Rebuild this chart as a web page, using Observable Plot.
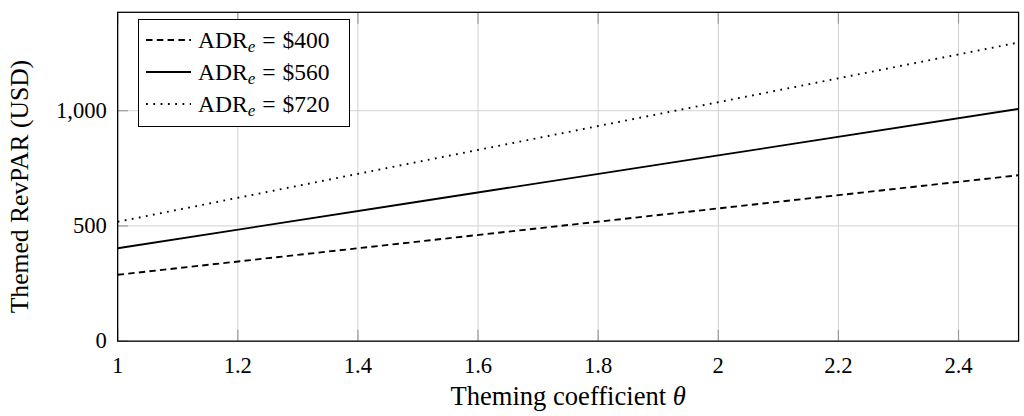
<!DOCTYPE html>
<html>
<head>
<meta charset="utf-8">
<script src="https://cdn.jsdelivr.net/npm/d3@7"></script>
<script src="https://cdn.jsdelivr.net/npm/@observablehq/plot@0.6"></script>
<style>
  html, body { margin: 0; padding: 0; background: #fff; overflow: hidden; width: 1024px; height: 416px; }
  #wrap { position: relative; width: 1024px; height: 416px; overflow: hidden; }
  #legend { position: absolute; left: 138px; top: 19px; width: 212px; height: 108px; box-sizing: border-box;
    border: 1.3px solid #000; background: #fff; font-family: "Liberation Serif", "Times New Roman", serif; font-size: 23.5px; }
  .row { position: absolute; left: 0; height: 30px; display: flex; align-items: center; }
  .row svg { margin-left: 7px; margin-right: 7px; }
  .row span.t { white-space: nowrap; }
  .eq { margin: 0 7px; }
  sub { font-style: italic; font-size: 17px; vertical-align: -4px; line-height: 0; }
</style>
</head>
<body>
<div id="wrap"></div>
<script>
// Data
const theta = [1, 1.5, 2, 2.5];
const adrLabels = ["$400", "$560", "$720"];
const rev400 = [288, 432, 576, 720];
const rev560 = [403, 605, 806, 1008];
const rev720 = [518, 778, 1037, 1296];
const xTicks = [1, 1.2, 1.4, 1.6, 1.8, 2, 2.2, 2.4];
const yTicks = [0, 500, 1000];

const seriesVals = [rev400, rev560, rev720];
const dashes = ["6.5,4.3", null, "1.8,5.5"];
const rows = [];
seriesVals.forEach((vals, i) => vals.forEach((v, j) => rows.push({theta: theta[j], rev: v, s: adrLabels[i]})));

const serif = "Liberation Serif";
const gridC = "#d0d0d0";
const tickC = "#9a9a9a";

const marks = [
  Plot.gridX(xTicks, {stroke: gridC, strokeOpacity: 1, strokeWidth: 1}),
  Plot.gridY(yTicks, {stroke: gridC, strokeOpacity: 1, strokeWidth: 1}),
  Plot.axisX(xTicks, {anchor: "bottom", tickSize: -11, stroke: tickC, strokeWidth: 1.2, text: null, label: null}),
  Plot.axisX(xTicks, {anchor: "top", tickSize: -11, stroke: tickC, strokeWidth: 1.2, text: null, label: null}),
  Plot.axisY(yTicks, {anchor: "left", tickSize: -11, stroke: tickC, strokeWidth: 1.2, text: null, label: null}),
  Plot.axisX(xTicks, {anchor: "bottom", tickSize: 0, tickPadding: 16, fontSize: 23, fontFamily: serif, fill: "#000",
    tickFormat: d => String(d), label: null}),
  Plot.axisY(yTicks, {anchor: "left", tickSize: 0, tickPadding: 11, fontSize: 23, fontFamily: serif, fill: "#000",
    tickFormat: d => d3.format(",")(d), label: null}),
];
adrLabels.forEach((s, i) => {
  marks.push(Plot.line(rows.filter(r => r.s === s), {x: "theta", y: "rev", stroke: "#000", strokeWidth: 1.9,
    strokeDasharray: dashes[i] || undefined, strokeLinecap: "butt"}));
});
marks.push(Plot.frame({stroke: "#000", strokeWidth: 1.3}));
marks.push(Plot.text(["Themed RevPAR (USD)"], {frameAnchor: "left", dx: -99, dy: 10, rotate: -90, textAnchor: "middle", lineAnchor: "middle",
  fontSize: 26, fontFamily: serif, fill: "#000"}));
marks.push(Plot.text(["Theming coefficient θ"], {frameAnchor: "bottom", dy: 56, lineAnchor: "middle", fontSize: 27, fontFamily: serif, fill: "#000"}));

const chart = Plot.plot({
  width: 1040, height: 416,
  marginLeft: 119, marginRight: 6, marginTop: 12, marginBottom: 70,
  style: {background: "#fff", fontFamily: serif, overflow: "visible"},
  x: {domain: [1, 2.5], axis: null},
  y: {domain: [0, 1427], axis: null},
  marks
});
document.getElementById("wrap").appendChild(chart);

// italic theta
d3.select(chart).selectAll("text").each(function() {
  if (this.textContent === "Theming coefficient θ") {
    const sel = d3.select(this);
    sel.text("Theming coefficient ");
    sel.append("tspan").attr("font-style", "italic").text("θ");
  }
});

// Legend
const legend = document.createElement("div");
legend.id = "legend";
const rowTops = [5, 37, 69];
adrLabels.forEach((s, i) => {
  const r = document.createElement("div");
  r.className = "row";
  r.style.top = rowTops[i] + "px";
  const dash = dashes[i] ? ` stroke-dasharray="${dashes[i]}"` : "";
  r.innerHTML = `<svg width="45" height="10"><line x1="0" y1="5" x2="45" y2="5" stroke="#000" stroke-width="1.9"${dash}/></svg>` +
    `<span class="t">ADR<sub>e</sub><span class="eq">=</span>${s}</span>`;
  legend.appendChild(r);
});
document.getElementById("wrap").appendChild(legend);
</script>
</body>
</html>
